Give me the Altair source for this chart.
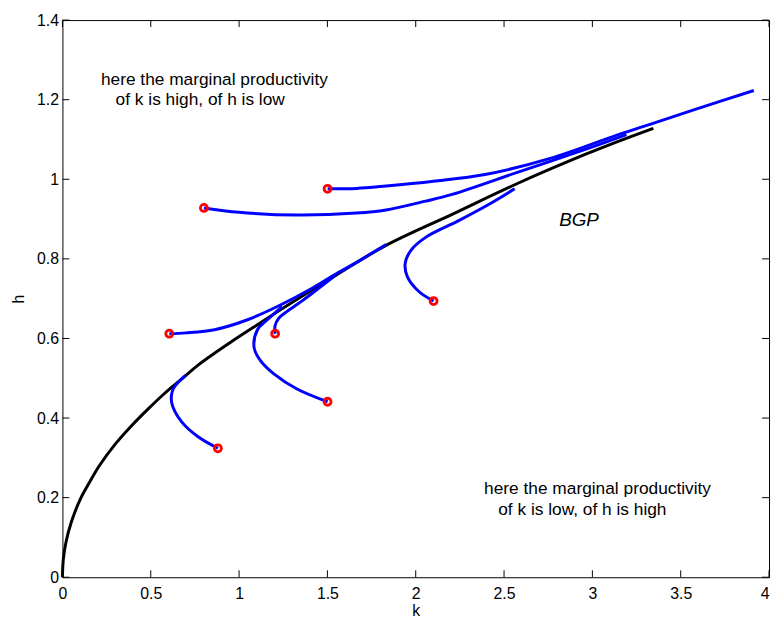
import altair as alt
import pandas as pd

# ---------------- data ----------------
x_ticks = [0, 0.5, 1, 1.5, 2, 2.5, 3, 3.5, 4]
y_ticks = [0, 0.2, 0.4, 0.6, 0.8, 1.0, 1.2, 1.4]

# balanced growth path (black)
bgp_k = [0, 0.005, 0.02, 0.05, 0.1, 0.15, 0.207, 0.3, 0.394, 0.49, 0.581, 0.68,
         0.768, 0.954, 1.141, 1.234, 1.53, 1.832, 2.206, 2.579, 2.952, 3.139, 3.345]
bgp_h = [0, 0.045, 0.088, 0.138, 0.195, 0.236, 0.279, 0.335, 0.382, 0.425, 0.463,
         0.500, 0.533, 0.591, 0.645, 0.672, 0.754, 0.834, 0.912, 0.990, 1.061,
         1.094, 1.128]

# transition paths (blue)
a_k = [1.501, 1.664, 1.832, 2.1, 2.392, 2.766, 3.139, 3.326, 3.6, 3.914]
a_h = [0.976, 0.977, 0.983, 0.995, 1.012, 1.053, 1.111, 1.138, 1.178, 1.223]

b_k = [0.801, 1.0, 1.328, 1.664, 1.832, 2.056, 2.206, 2.579, 2.952, 3.193]
b_h = [0.928, 0.917, 0.910, 0.915, 0.923, 0.945, 0.962, 1.018, 1.074, 1.112]

c_k = [0.605, 0.70, 0.861, 1.048, 1.234, 1.421, 1.533, 1.68, 1.832]
c_h = [0.612, 0.614, 0.622, 0.647, 0.684, 0.728, 0.758, 0.795, 0.836]

d_k = [1.204, 1.203, 1.225, 1.272, 1.365, 1.45, 1.54]
d_h = [0.612, 0.631, 0.651, 0.668, 0.697, 0.726, 0.757]

e_k = [1.501, 1.328, 1.197, 1.12, 1.085, 1.104, 1.160, 1.244]
e_h = [0.441, 0.473, 0.511, 0.545, 0.577, 0.622, 0.647, 0.680]

f_k = [0.880, 0.768, 0.674, 0.618, 0.627, 0.660, 0.697]
f_h = [0.324, 0.353, 0.391, 0.440, 0.473, 0.492, 0.507]

g_k = [2.101, 2.018, 1.953, 1.940, 1.972, 2.056, 2.243, 2.430, 2.560]
g_h = [0.694, 0.718, 0.755, 0.788, 0.821, 0.854, 0.896, 0.941, 0.976]

# initial conditions (red circles)
start_k = [1.501, 0.801, 0.605, 1.204, 1.501, 0.880, 2.101]
start_h = [0.976, 0.928, 0.612, 0.612, 0.441, 0.324, 0.694]

# annotations
note_text = ["here the marginal productivity", "of k is high, of h is low",
             "here the marginal productivity", "of k is low, of h is high"]
note_k = [0.218, 0.301, 2.387, 2.467]
note_h = [1.250, 1.198, 0.221, 0.169]
bgp_label = ["BGP"]
bgp_label_k = [2.812]
bgp_label_h = [0.898]

# ---------------- tables ----------------
bgp_df = pd.DataFrame({"k": bgp_k, "h": bgp_h, "o": range(len(bgp_k))})
rows = []
for name, ks, hs in [("A", a_k, a_h), ("B", b_k, b_h), ("C", c_k, c_h),
                     ("D", d_k, d_h), ("E", e_k, e_h), ("F", f_k, f_h),
                     ("G", g_k, g_h)]:
    for i, (kk, hh) in enumerate(zip(ks, hs)):
        rows.append({"id": name, "o": i, "k": kk, "h": hh})
paths_df = pd.DataFrame(rows)
start_df = pd.DataFrame({"k": start_k, "h": start_h})
note_df = pd.DataFrame({"t": note_text, "k": note_k, "h": note_h})
bgpl_df = pd.DataFrame({"t": bgp_label, "k": bgp_label_k, "h": bgp_label_h})
xt_df = pd.DataFrame({"k": x_ticks})
yt_df = pd.DataFrame({"h": y_ticks})

# ---------------- chart ----------------
W, H = 714, 563
FONT = "Liberation Sans"
TL = 7
xscale = alt.Scale(domain=[0, 4], nice=False, zero=False)
yscale = alt.Scale(domain=[0, 1.4], nice=False, zero=False)

x_axis = alt.Axis(values=x_ticks, format="~g", tickSize=0, domain=False, grid=False,
                  labelPadding=8, labelFontSize=16, labelFont=FONT, labelColor="black",
                  labelFlush=False, labelOverlap=False,
                  labelAlign=alt.condition("datum.value >= 4", alt.value("right"),
                                           alt.value("center")),
                  title="k", titleFont=FONT, titleFontSize=16, titleFontWeight="normal",
                  titleColor="black", titleY=34, titleBaseline="middle")
y_axis = alt.Axis(values=y_ticks, format="~g", tickSize=0, domain=False, grid=False,
                  labelPadding=4, labelFontSize=16, labelFont=FONT, labelColor="black",
                  labelFlush=False, labelOverlap=False,
                  title="h", titleFont=FONT, titleFontSize=16, titleFontWeight="normal",
                  titleColor="black", titleAngle=270, titleX=-44, titleY=H / 2,
                  titleAlign="center", titleBaseline="middle")


def X(f):
    return alt.X(f, type="quantitative", scale=xscale, axis=x_axis)


def Y(f):
    return alt.Y(f, type="quantitative", scale=yscale, axis=y_axis)


bgp_line = alt.Chart(bgp_df).mark_line(color="black", strokeWidth=3,
                                       interpolate="catmull-rom").encode(
    x=X("k"), y=Y("h"), order="o:Q")

paths = alt.Chart(paths_df).mark_line(color="#0000ff", strokeWidth=3,
                                      interpolate="catmull-rom").encode(
    x=X("k"), y=Y("h"), detail="id:N", order="o:Q")

starts = alt.Chart(start_df).mark_point(shape="circle", filled=False, color="#ff0000",
                                        strokeWidth=2.8, size=50, opacity=1).encode(
    x=X("k"), y=Y("h"))

notes = alt.Chart(note_df).mark_text(align="left", baseline="middle", font=FONT,
                                     fontSize=17.5, color="black").encode(
    x=X("k"), y=Y("h"), text="t:N")

bgp_text = alt.Chart(bgpl_df).mark_text(align="left", baseline="middle", font=FONT,
                                        fontSize=19, fontStyle="italic",
                                        color="black").encode(
    x=X("k"), y=Y("h"), text="t:N")

tick_b = alt.Chart(xt_df).mark_rule(color="black", strokeWidth=1).encode(
    x=X("k"), y=alt.value(H), y2=alt.value(H - TL))
tick_t = alt.Chart(xt_df).mark_rule(color="black", strokeWidth=1).encode(
    x=X("k"), y=alt.value(0), y2=alt.value(TL))
tick_l = alt.Chart(yt_df).mark_rule(color="black", strokeWidth=1).encode(
    y=Y("h"), x=alt.value(0), x2=alt.value(TL))
tick_r = alt.Chart(yt_df).mark_rule(color="black", strokeWidth=1).encode(
    y=Y("h"), x=alt.value(W), x2=alt.value(W - TL))

chart = alt.layer(bgp_line, paths, starts, notes, bgp_text,
                  tick_b, tick_t, tick_l, tick_r).properties(
    width=W, height=H,
    autosize=alt.AutoSizeParams(type="none"),
    padding={"left": 55, "top": 9, "right": 3, "bottom": 41},
    background="white",
).configure_view(stroke="black", strokeWidth=1)

chart.save("out.html", embed_options={"renderer": "svg", "actions": False})
